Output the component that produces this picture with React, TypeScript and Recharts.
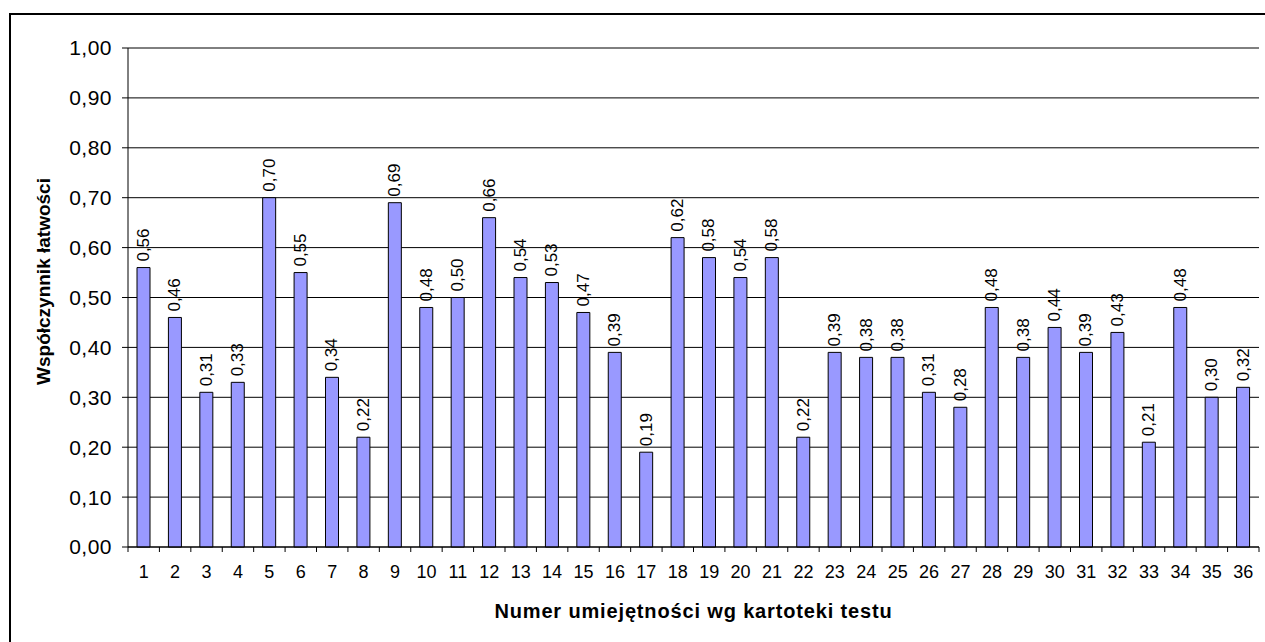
import { BarChart, Bar, XAxis, YAxis, CartesianGrid, LabelList } from "recharts";

const skills = [
  "1", "2", "3", "4", "5", "6", "7", "8", "9", "10", "11", "12",
  "13", "14", "15", "16", "17", "18", "19", "20", "21", "22", "23", "24",
  "25", "26", "27", "28", "29", "30", "31", "32", "33", "34", "35", "36",
];

const easiness = [
  0.56, 0.46, 0.31, 0.33, 0.7, 0.55, 0.34, 0.22, 0.69, 0.48, 0.5, 0.66,
  0.54, 0.53, 0.47, 0.39, 0.19, 0.62, 0.58, 0.54, 0.58, 0.22, 0.39, 0.38,
  0.38, 0.31, 0.28, 0.48, 0.38, 0.44, 0.39, 0.43, 0.21, 0.48, 0.3, 0.32,
];

const yTicks = [0, 0.1, 0.2, 0.3, 0.4, 0.5, 0.6, 0.7, 0.8, 0.9, 1.0];

const data = skills.map((s, i) => ({ skill: s, value: easiness[i] }));

const W = 1265;
const H = 642;
const M = { top: 48, right: 6, left: 0, bottom: 0 };
const Y_W = 128;
const X_H = 95;
const FONT = "'Liberation Sans', Arial, sans-serif";
const band = (W - M.right - Y_W) / skills.length;

const fmt = (v: number) => v.toFixed(2).replace(".", ",");

function XTick(props: any) {
  const { x, y, payload, index } = props;
  const axisY = y - 18;
  return (
    <g>
      <line x1={x - band / 2} x2={x - band / 2} y1={axisY} y2={axisY + 5} stroke="#000" />
      {index === skills.length - 1 && (
        <line x1={x + band / 2} x2={x + band / 2} y1={axisY} y2={axisY + 5} stroke="#000" />
      )}
      <text x={x} y={y} dy="0.71em" textAnchor="middle" fontSize={18} fontFamily={FONT} fill="#000">
        {payload.value}
      </text>
    </g>
  );
}

function ValueLabel(props: any) {
  const { x, y, width, value } = props;
  const cx = x + width / 2;
  const cy = y - 6;
  return (
    <text
      x={cx}
      y={cy}
      transform={`rotate(-90, ${cx}, ${cy})`}
      textAnchor="start"
      dominantBaseline="central"
      fontSize={17}
      fontFamily={FONT}
      fill="#000"
    >
      {fmt(value)}
    </text>
  );
}

export default function App() {
  return (
    <div style={{ position: "absolute", left: 0, top: 0, width: W, height: H, overflow: "hidden", background: "#fff" }}>
      <div
        style={{
          position: "absolute",
          left: 9,
          top: 13,
          width: W,
          height: H,
          border: "2px solid #000",
          boxSizing: "border-box",
        }}
      />
      <div style={{ position: "absolute", left: 0, top: 0 }}>
        <BarChart width={W} height={H} data={data} margin={M} barSize={13}>
          <CartesianGrid vertical={false} stroke="#000" strokeWidth={1} />
          <XAxis
            dataKey="skill"
            height={X_H}
            tickLine={false}
            tickSize={5}
            tickMargin={13}
            axisLine={{ stroke: "#000" }}
            tick={<XTick />}
            interval={0}
            label={{
              value: "Numer umiejętności wg kartoteki testu",
              position: "insideBottom",
              offset: 24,
              fontSize: 20,
              fontWeight: "bold",
              fontFamily: FONT,
              fill: "#000",
              letterSpacing: 0.85,
            }}
          />
          <YAxis
            width={Y_W}
            domain={[0, 1]}
            ticks={yTicks}
            interval={0}
            tickFormatter={fmt}
            tickSize={6}
            tickMargin={10}
            axisLine={{ stroke: "#000" }}
            tickLine={{ stroke: "#000" }}
            tick={{ fontSize: 21, fontFamily: FONT, fill: "#000", letterSpacing: 0.5 }}
            label={{
              value: "Współczynnik łatwości",
              angle: -90,
              position: "insideLeft",
              offset: 43,
              dy: -16,
              fontSize: 19,
              fontWeight: "bold",
              fontFamily: FONT,
              fill: "#000",
              style: { textAnchor: "middle" },
            }}
          />
          <YAxis
            yAxisId="right"
            orientation="right"
            width={0}
            tick={false}
            tickLine={false}
            axisLine={{ stroke: "#999" }}
          />
          <Bar dataKey="value" fill="#9999FF" stroke="#000" strokeWidth={1} isAnimationActive={false}>
            <LabelList dataKey="value" content={<ValueLabel />} />
          </Bar>
        </BarChart>
      </div>
    </div>
  );
}
